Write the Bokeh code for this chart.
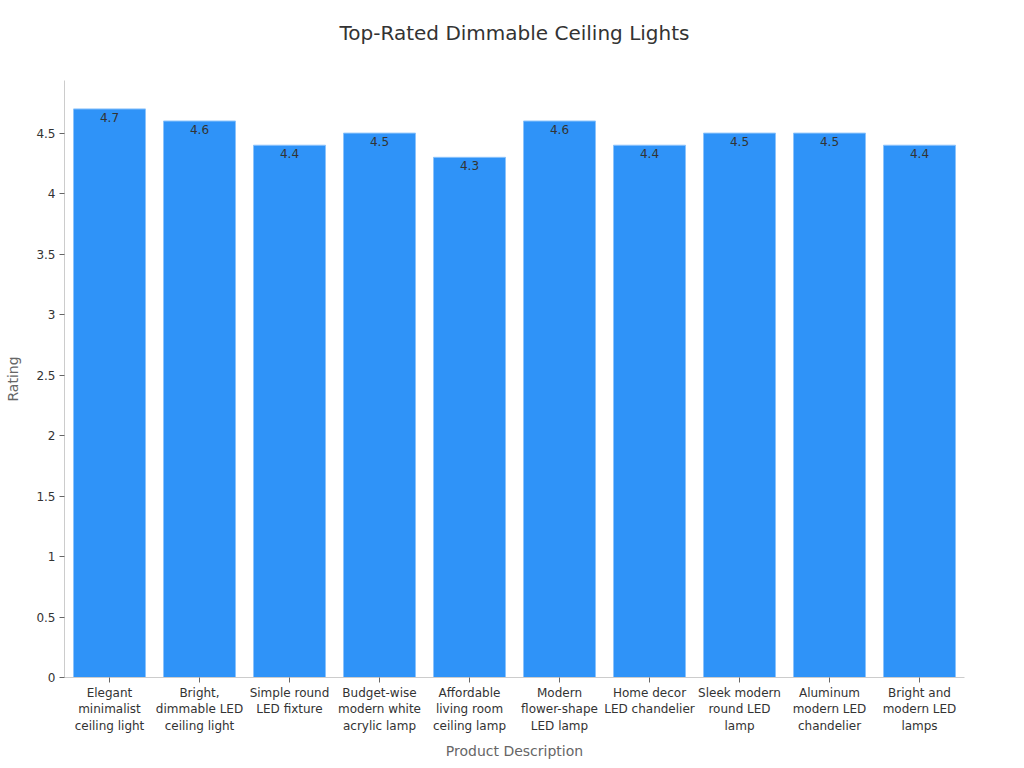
from bokeh.plotting import figure
from bokeh.models import ColumnDataSource, FixedTicker, NumeralTickFormatter, Range1d, LabelSet, Title
from bokeh.core.properties import value
from bokeh.embed import file_html
from bokeh.resources import INLINE

products = [
    "Elegant\nminimalist\nceiling light",
    "Bright,\ndimmable LED\nceiling light",
    "Simple round\nLED fixture",
    "Budget-wise\nmodern white\nacrylic lamp",
    "Affordable\nliving room\nceiling lamp",
    "Modern\nflower-shape\nLED lamp",
    "Home decor\nLED chandelier",
    "Sleek modern\nround LED\nlamp",
    "Aluminum\nmodern LED\nchandelier",
    "Bright and\nmodern LED\nlamps",
]
ratings = [4.7, 4.6, 4.4, 4.5, 4.3, 4.6, 4.4, 4.5, 4.5, 4.4]
y_ticks = [0, 0.5, 1, 1.5, 2, 2.5, 3, 3.5, 4, 4.5]
title_text = "Top-Rated Dimmable Ceiling Lights"
x_title = "Product Description"
y_title = "Rating"

FONT = "DejaVu Sans"
Y_MAX = 4.935
xs = list(range(len(products)))
src = ColumnDataSource(dict(x=xs, top=ratings, label=[str(r) for r in ratings]))

p = figure(width=1024, height=768, output_backend="svg", toolbar_location=None,
           title=None,
           x_range=Range1d(-0.5, len(products) - 0.5), y_range=Range1d(0, Y_MAX),
           min_border_left=64, min_border_right=60, min_border_bottom=91, min_border_top=80)

# spacer between the title and the plot area (inner panel), then the title (outer panel)
p.add_layout(Title(text=" ", text_font_size="1px", standoff=31), "above")
p.add_layout(Title(text=title_text, align="center", vertical_align="top", text_font=FONT,
                   text_font_size="20px", text_font_style="normal", text_color="#333333",
                   standoff=0), "above")

p.vbar(x="x", top="top", width=0.8, source=src, fill_color="#2f93f8",
       line_color="#8cc3fb", line_width=1)

labels = LabelSet(x="x", y="top", text="label", source=src, text_align="center",
                  text_baseline="top", y_offset=-4, text_font=value(FONT),
                  text_font_size="12px", text_color="#333333")
p.add_layout(labels)

p.xgrid.visible = False
p.ygrid.visible = False
p.outline_line_color = None

p.xaxis.ticker = FixedTicker(ticks=xs)
p.xaxis.major_label_overrides = {i: t for i, t in enumerate(products)}
p.xaxis.minor_tick_line_color = None
p.yaxis.ticker = FixedTicker(ticks=y_ticks)
p.yaxis.formatter = NumeralTickFormatter(format="0.[0]")
p.yaxis.minor_tick_line_color = None

for ax in (p.xaxis, p.yaxis):
    ax.axis_line_color = "#cccccc"
    ax.major_tick_line_color = "#666666"
    ax.major_tick_in = 0
    ax.major_tick_out = 5
    ax.major_label_text_font = FONT
    ax.major_label_text_font_size = "12px"
    ax.major_label_text_color = "#333333"
    ax.axis_label_text_font = FONT
    ax.axis_label_text_font_size = "14px"
    ax.axis_label_text_font_style = "normal"
    ax.axis_label_text_color = "#666666"

p.xaxis.axis_label = x_title
p.yaxis.axis_label = y_title
p.xaxis.major_label_standoff = 3
p.yaxis.major_label_standoff = 4
p.xaxis.axis_label_standoff = 7
p.yaxis.axis_label_standoff = 12

open("out.html", "w").write(file_html(p, INLINE))
